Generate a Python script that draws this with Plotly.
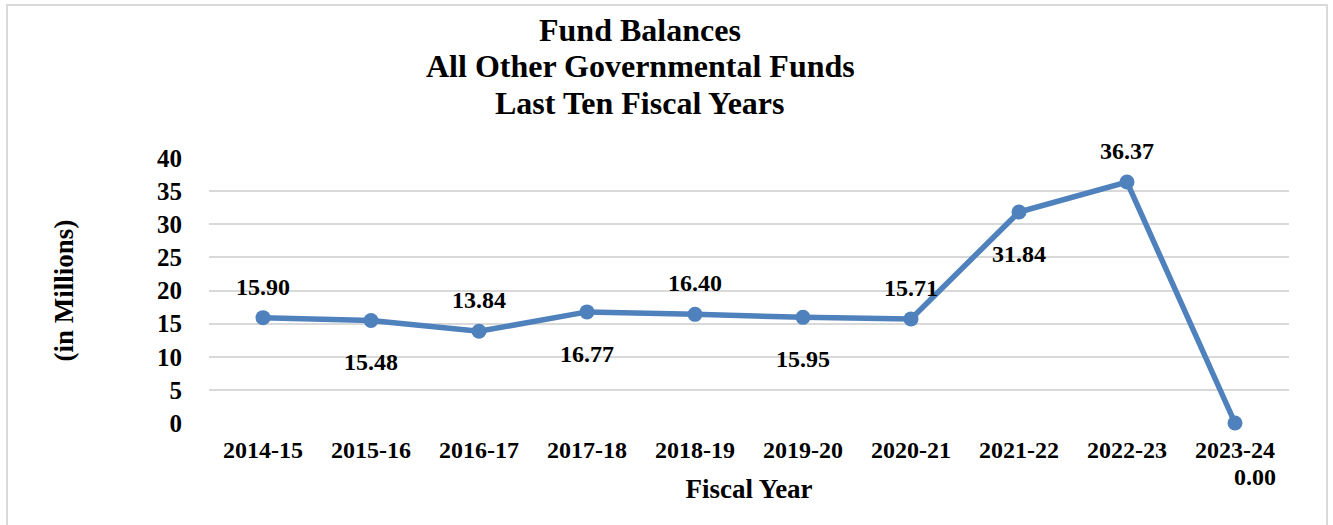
import plotly.graph_objects as go

# Fund balance data (in millions)
fiscal_years = ["2014-15", "2015-16", "2016-17", "2017-18", "2018-19",
                "2019-20", "2020-21", "2021-22", "2022-23", "2023-24"]
balances = [15.90, 15.48, 13.84, 16.77, 16.40, 15.95, 15.71, 31.84, 36.37, 0.00]
y_ticks = [0, 5, 10, 15, 20, 25, 30, 35, 40]

# Where each value label sits relative to its point
label_side = ["above", "below", "above", "below", "above",
              "below", "above", "below", "above", "far_below"]

W, H = 1333, 525
L, R, T, B = 209, 44, 158, 102
SERIF = "Liberation Serif, Times New Roman, serif"
BLUE = "#4F81BD"

fig = go.Figure()
fig.add_trace(go.Scatter(
    x=fiscal_years, y=balances, mode="lines+markers",
    line=dict(color=BLUE, width=5.5),
    marker=dict(color=BLUE, size=15),
    showlegend=False, hoverinfo="skip", cliponaxis=False,
))

annotations = []
for fy, v, side in zip(fiscal_years, balances, label_side):
    shift = {"above": 31, "below": -42, "far_below": -54}[side]
    xshift = 20 if side == "far_below" else 0
    annotations.append(dict(
        x=fy, y=v, xref="x", yref="y", text=f"<b>{v:.2f}</b>", showarrow=False,
        yshift=shift, xshift=xshift,
        font=dict(family=SERIF, size=24, color="black"),
    ))

# Three-line title
for i, line in enumerate(["Fund Balances", "All Other Governmental Funds", "Last Ten Fiscal Years"]):
    py = 30 + i * 36.5
    annotations.append(dict(
        x=(640 - L) / (W - L - R), y=(H - B - py) / (H - T - B),
        xref="paper", yref="paper", text=f"<b>{line}</b>", showarrow=False,
        xanchor="center", yanchor="middle",
        font=dict(family=SERIF, size=32, color="black"),
    ))

fig.update_layout(
    width=W, height=H,
    margin=dict(l=L, r=R, t=T, b=B, autoexpand=False),
    paper_bgcolor="white", plot_bgcolor="white",
    font=dict(family=SERIF, color="black"),
    annotations=annotations,
    xaxis=dict(
        type="category", range=[-0.5, len(fiscal_years) - 0.5],
        showgrid=False, showline=False, zeroline=False, ticks="",
        tickfont=dict(family=SERIF, size=24, color="black", weight="bold"),
        ticklabelstandoff=10,
        title=dict(text="<b>Fiscal Year</b>", font=dict(family=SERIF, size=27), standoff=17),
    ),
    yaxis=dict(
        range=[0, 40], tickvals=y_ticks, showgrid=True, gridcolor="#d9d9d9", gridwidth=2,
        showline=False, zeroline=False, ticks="",
        tickfont=dict(family=SERIF, size=25, color="black", weight="bold"),
        ticklabelstandoff=26,
        title=dict(text="<b>(in Millions)</b>", font=dict(family=SERIF, size=27), standoff=75),
    ),
    shapes=[dict(
        type="rect", xref="paper", yref="paper",
        x0=(7 - L) / (W - L - R), x1=(1327 - L) / (W - L - R),
        y0=(H - B - 540) / (H - T - B), y1=(H - B - 5) / (H - T - B),
        line=dict(color="#d9d9d9", width=2), layer="below",
    )],
)

fig.write_html("out.html")
